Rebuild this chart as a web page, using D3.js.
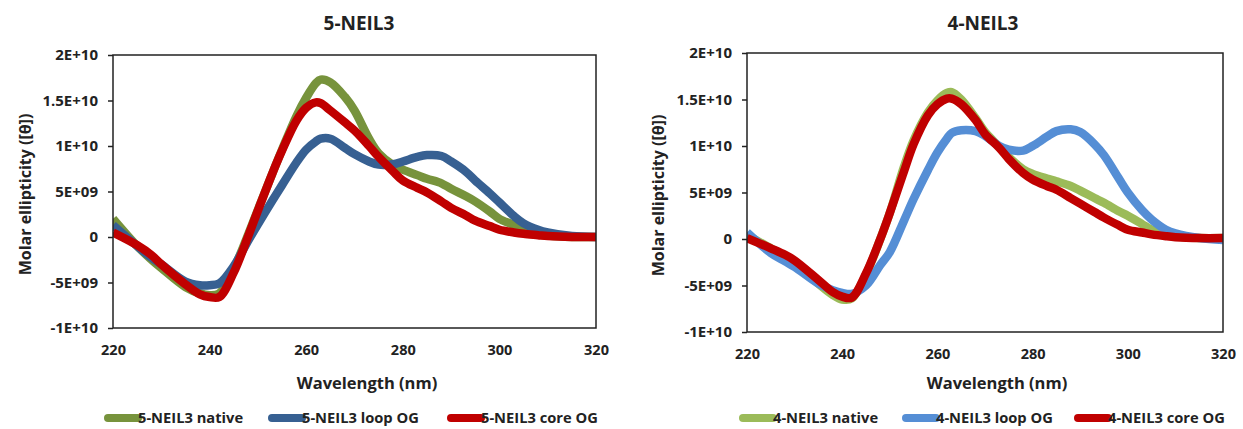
<!DOCTYPE html>
<html>
<head>
<meta charset="utf-8">
<script src="https://cdn.jsdelivr.net/npm/d3@7"></script>
<style>
    body { margin: 0; background: #fff; }
    text { font-family: "Open Sans", Lato, sans-serif; font-weight: bold; fill: #222; }
</style>
</head>
<body>
<div id="chart"></div>
<script>
        // wavelengths (nm) shared by every series
        var wavelength = [220, 225, 228, 230, 235, 238, 240, 242, 245, 248, 250, 253, 255, 258, 260, 262, 263, 265, 268, 270,
            273, 275, 278, 280, 283, 285, 288, 290, 293, 295, 298, 300, 303, 305, 308, 310, 315, 320];

        // molar ellipticity, in units of 1E+09
        var neil5Native = [2.0, -1.0, -2.5, -3.4, -5.5, -6.2, -6.4, -6.2, -3.5, 0.3, 3.0, 7.0, 9.6, 13.3, 15.3, 16.9, 17.3, 17.0, 15.4, 13.9,
            10.8, 9.2, 7.9, 7.4, 6.8, 6.4, 5.9, 5.3, 4.5, 3.9, 2.8, 2.0, 1.3, 0.7, 0.3, 0.15, 0.0, 0.0];
        var neil5Loop = [1.3, -1.0, -2.3, -3.0, -4.9, -5.3, -5.3, -5.1, -3.2, -0.4, 1.4, 4.0, 5.7, 8.2, 9.6, 10.5, 10.8, 10.8, 9.8, 9.1,
            8.3, 7.95, 8.0, 8.3, 8.8, 9.0, 8.9, 8.3, 7.2, 6.2, 4.8, 3.8, 2.3, 1.5, 0.8, 0.5, 0.1, 0.0];
        var neil5Core = [0.5, -0.9, -2.0, -3.0, -5.2, -6.3, -6.6, -6.6, -3.9, 0.1, 2.9, 7.0, 9.5, 12.8, 14.2, 14.8, 14.7, 13.9, 12.6, 11.7,
            10.0, 8.8, 7.2, 6.2, 5.4, 4.9, 3.9, 3.2, 2.4, 1.8, 1.2, 0.8, 0.5, 0.35, 0.2, 0.1, 0.0, 0.0];

        var neil4Native = [0.4, -1.0, -1.9, -2.6, -4.8, -6.0, -6.5, -6.4, -3.8, 0.0, 2.8, 7.8, 10.6, 13.6, 14.9, 15.7, 15.8, 15.0, 13.0, 11.5,
            9.9, 8.8, 7.5, 7.0, 6.5, 6.2, 5.7, 5.2, 4.4, 3.9, 3.0, 2.5, 1.6, 1.0, 0.5, 0.3, 0.1, 0.1];
        var neil4Loop = [0.7, -1.5, -2.4, -3.0, -4.8, -5.5, -5.8, -5.9, -5.0, -2.8, -1.4, 2.0, 4.3, 7.4, 9.3, 10.8, 11.4, 11.7, 11.6, 11.1,
            10.0, 9.6, 9.5, 10.0, 11.0, 11.6, 11.8, 11.5, 10.2, 9.0, 6.6, 5.0, 3.1, 2.1, 1.0, 0.6, 0.1, -0.1];
        var neil4Core = [0.1, -1.0, -1.7, -2.3, -4.4, -5.7, -6.2, -6.3, -3.7, 0.0, 2.8, 7.3, 10.2, 13.3, 14.5, 15.1, 15.1, 14.5, 12.8, 11.3,
            9.8, 8.6, 7.1, 6.4, 5.7, 5.3, 4.4, 3.8, 2.9, 2.3, 1.5, 1.0, 0.7, 0.5, 0.3, 0.2, 0.1, 0.1];

        var xTicks = [220, 240, 260, 280, 300, 320];
        var yTicks = [-10, -5, 0, 5, 10, 15, 20];
        var yTickLabels = ["-1E+10", "-5E+09", "0", "5E+09", "1E+10", "1.5E+10", "2E+10"];

        var titles = ["5-NEIL3", "4-NEIL3"];
        var names5 = ["5-NEIL3 native", "5-NEIL3 loop OG", "5-NEIL3 core OG"];
        var names4 = ["4-NEIL3 native", "4-NEIL3 loop OG", "4-NEIL3 core OG"];

        var svg = d3.select("#chart")
            .append("svg")
            .attr("width", 1243)
            .attr("height", 429);

        drawPanel(0, {
            left: 113, right: 596, top: 55, bottom: 328,
            title: titles[0], titleX: 359,
            xTitleX: 367, yTitleX: 25,
            series: [neil5Native, neil5Loop, neil5Core],
            names: names5,
            colors: ["#77933c", "#376092", "#c00000"],
            legendX: [108, 272, 451]
        });

        drawPanel(1, {
            left: 747, right: 1223, top: 53, bottom: 332,
            title: titles[1], titleX: 983,
            xTitleX: 997, yTitleX: 658,
            series: [neil4Native, neil4Loop, neil4Core],
            names: names4,
            colors: ["#9bbb59", "#558ed5", "#c00000"],
            legendX: [743, 906, 1078]
        });

        function drawPanel(i, p) {
            var x = d3.scaleLinear()
                .domain([220, 320])
                .range([p.left, p.right]);

            var y = d3.scaleLinear()
                .domain([-10, 20])
                .range([p.bottom, p.top]);

            var g = svg.append("g");

            svg.append("clipPath")
                .attr("id", "clip" + i)
                .append("rect")
                .attr("x", p.left)
                .attr("y", p.top)
                .attr("width", p.right - p.left)
                .attr("height", p.bottom - p.top);

            // y axis with outer ticks
            var yAxis = g.append("g")
                .attr("transform", "translate(" + p.left + ",0)")
                .call(d3.axisLeft(y)
                    .tickValues(yTicks)
                    .tickSize(5)
                    .tickSizeOuter(0)
                    .tickPadding(10)
                    .tickFormat(function (d, k) { return yTickLabels[k]; }));
            yAxis.select(".domain").remove();
            yAxis.selectAll("line").attr("stroke", "#222").attr("stroke-width", 1.5);
            yAxis.selectAll("text").style("font-size", "15px").attr("fill", "#222");

            // x axis, labels only
            var xAxis = g.append("g")
                .attr("transform", "translate(0," + p.bottom + ")")
                .call(d3.axisBottom(x)
                    .tickValues(xTicks)
                    .tickSize(0)
                    .tickPadding(17));
            xAxis.select(".domain").remove();
            xAxis.selectAll("text").style("font-size", "14.5px").attr("fill", "#222");

            // series lines
            var line = d3.line()
                .x(function (d) { return x(d[0]); })
                .y(function (d) { return y(d[1]); })
                .curve(d3.curveCatmullRom.alpha(0.5));

            var lines = g.append("g").attr("clip-path", "url(#clip" + i + ")");
            p.series.forEach(function (values, k) {
                lines.append("path")
                    .datum(wavelength.map(function (w, j) { return [w, values[j]]; }))
                    .attr("d", line)
                    .attr("fill", "none")
                    .attr("stroke", p.colors[k])
                    .attr("stroke-width", 8.5)
                    .attr("stroke-linejoin", "round");
            });

            // plot frame
            g.append("rect")
                .attr("x", p.left)
                .attr("y", p.top)
                .attr("width", p.right - p.left)
                .attr("height", p.bottom - p.top)
                .attr("fill", "none")
                .attr("stroke", "#222")
                .attr("stroke-width", 1.5);

            // titles
            g.append("text")
                .attr("x", p.titleX)
                .attr("y", 30)
                .attr("text-anchor", "middle")
                .style("font-size", "19px")
                .text(p.title);

            g.append("text")
                .attr("x", p.xTitleX)
                .attr("y", 389)
                .attr("text-anchor", "middle")
                .style("font-size", "16.5px")
                .text("Wavelength (nm)");

            g.append("text")
                .attr("transform", "translate(" + p.yTitleX + "," + ((p.top + p.bottom) / 2 + 3) + ") rotate(-90)")
                .attr("text-anchor", "middle")
                .attr("dy", "0.35em")
                .style("font-size", "16px")
                .text("Molar ellipticity ([θ])");

            // legend
            p.names.forEach(function (name, k) {
                var lx = p.legendX[k];
                g.append("line")
                    .attr("x1", lx)
                    .attr("x2", lx + 30)
                    .attr("y1", 418)
                    .attr("y2", 418)
                    .attr("stroke", p.colors[k])
                    .attr("stroke-width", 8)
                    .attr("stroke-linecap", "round");
                g.append("text")
                    .attr("x", lx + 30)
                    .attr("y", 418)
                    .attr("dy", "0.35em")
                    .style("font-size", "14.7px")
                    .text(name);
            });
        }
</script>
</body>
</html>
